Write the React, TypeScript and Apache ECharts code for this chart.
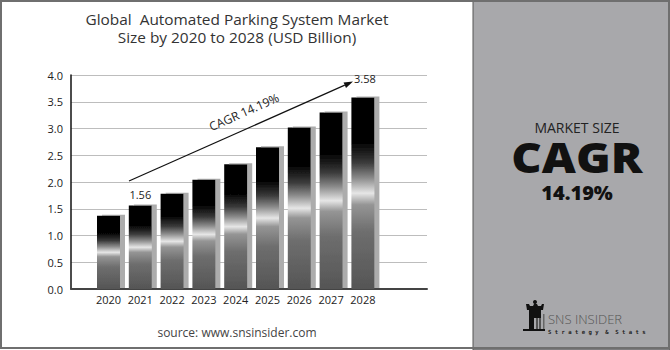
import React, { useEffect, useRef } from "react";
import * as echarts from "echarts";

const years = ["2020", "2021", "2022", "2023", "2024", "2025", "2026", "2027", "2028"];
const marketSize = [1.37, 1.56, 1.78, 2.04, 2.33, 2.65, 3.02, 3.3, 3.58];
const labeledYears = ["2021", "2028"];
const yTicks = { min: 0, max: 4, interval: 0.5 };
const titleLines = ["Global  Automated Parking System Market", "Size by 2020 to 2028 (USD Billion)"];
const cagrText = "CAGR 14.19%";
const sideTexts = { top: "MARKET SIZE", big: "CAGR", value: "14.19%" };
const sourceText = "source: www.snsinsider.com";
const logoTexts = { name: "SNS INSIDER", tagline: "S t r a t e g y  &  S t a t s" };

const FONT = "'Open Sans', 'DejaVu Sans', sans-serif";

export default function App() {
  const ref = useRef<HTMLDivElement>(null);
  useEffect(() => {
    if (!ref.current) return;
    const chart = echarts.init(ref.current, undefined, { renderer: "svg" });

    const barGradient = new echarts.graphic.LinearGradient(0, 0, 0, 1, [
      { offset: 0, color: "#000000" },
      { offset: 0.24, color: "#050505" },
      { offset: 0.34, color: "#3a3a3a" },
      { offset: 0.42, color: "#8a8a8a" },
      { offset: 0.5, color: "#e6e6e6" },
      { offset: 0.56, color: "#959595" },
      { offset: 0.7, color: "#6e6e6e" },
      { offset: 1, color: "#555555" },
    ]);

    const data = marketSize.map((v, i) => {
      const lbl = labeledYears.includes(years[i]);
      if (!lbl) return v;
      return {
        value: v,
        label: {
          show: true,
          position: "top",
          distance: i === years.length - 1 ? 13 : 6,
          offset: i === years.length - 1 ? [2, 0] : [0, 0],
          formatter: (p: any) => p.value.toFixed(2),
          fontFamily: FONT,
          fontSize: 11,
          color: "#222",
        },
      };
    });

    // arrow geometry (annotation)
    const x1 = 129, y1 = 181, tipX = 353, tipY = 81.5;
    const dx = tipX - x1, dy = tipY - y1;
    const len = Math.sqrt(dx * dx + dy * dy);
    const ux = dx / len, uy = dy / len;
    const nx = -uy, ny = ux;
    const bx = tipX - 9 * ux, by = tipY - 9 * uy;
    const angle = Math.atan2(-dy, dx);

    const option: any = {
      animation: false,
      backgroundColor: "#ffffff",
      grid: [
        { left: 71, top: 75, width: 356, height: 214 },
        { left: 92.6, top: 75, width: 286.2, height: 214 },
      ],
      xAxis: [
        {
          gridIndex: 0,
          type: "value",
          min: 0,
          max: 1,
          axisLabel: { show: false },
          axisTick: { show: false },
          splitLine: { show: false },
          axisLine: { show: true, lineStyle: { color: "#444", width: 2 } },
        },
        {
          gridIndex: 1,
          type: "category",
          data: years,
          axisLine: { show: false },
          axisTick: { show: false },
          axisLabel: { interval: 0, fontFamily: FONT, fontSize: 11, color: "#222", margin: 5 },
        },
      ],
      yAxis: [
        {
          gridIndex: 0,
          type: "value",
          ...yTicks,
          axisLabel: {
            fontFamily: FONT,
            fontSize: 11,
            color: "#222",
            margin: 8,
            formatter: (v: number) => v.toFixed(1),
          },
          axisTick: { show: false },
          axisLine: { show: true, lineStyle: { color: "#111", width: 1.5 } },
          splitLine: { show: true, lineStyle: { color: "#bdbdbd", width: 1 } },
        },
        {
          gridIndex: 1,
          type: "value",
          ...yTicks,
          show: false,
          splitLine: { show: false },
        },
      ],
      series: [
        {
          type: "bar",
          xAxisIndex: 1,
          yAxisIndex: 1,
          data,
          barWidth: 23,
          itemStyle: {
            color: barGradient,
            shadowColor: "#acacac",
            shadowBlur: 0,
            shadowOffsetX: 5,
            shadowOffsetY: -1,
          },
          z: 3,
        },
      ],
      graphic: [
        {
          type: "rect",
          shape: { x: 473, y: 0, width: 197, height: 350 },
          style: { fill: "#a8a8ab", stroke: "#555", lineWidth: 1 },
          z: -10,
        },
        {
          type: "rect",
          shape: { x: 1, y: 1, width: 668, height: 347 },
          style: { fill: "none", stroke: "#6f6f6f", lineWidth: 2 },
          z: 100,
        },
        {
          type: "text",
          x: 237,
          y: 19,
          scaleX: 1.1,
          style: {
            text: titleLines[0],
            font: `14px ${FONT}`,
            fill: "#333",
            textAlign: "center",
            textVerticalAlign: "middle",
          },
        },
        {
          type: "text",
          x: 237,
          y: 37,
          scaleX: 1.1,
          style: {
            text: titleLines[1],
            font: `14px ${FONT}`,
            fill: "#333",
            textAlign: "center",
            textVerticalAlign: "middle",
          },
        },
        {
          type: "line",
          shape: { x1, y1, x2: bx, y2: by },
          style: { stroke: "#111", lineWidth: 1.2 },
          z: 10,
        },
        {
          type: "polygon",
          shape: {
            points: [
              [tipX, tipY],
              [bx + 3 * nx, by + 3 * ny],
              [bx - 3 * nx, by - 3 * ny],
            ],
          },
          style: { fill: "#111" },
          z: 10,
        },
        {
          type: "text",
          x: 244,
          y: 112,
          rotation: angle,
          style: {
            text: cagrText,
            font: `12px ${FONT}`,
            fill: "#222",
            textAlign: "center",
            textVerticalAlign: "middle",
          },
          z: 10,
        },
        {
          type: "text",
          x: 237,
          y: 332,
          style: {
            text: sourceText,
            font: `12px ${FONT}`,
            fill: "#444",
            textAlign: "center",
            textVerticalAlign: "middle",
          },
        },
        {
          type: "text",
          x: 577,
          y: 127,
          style: {
            text: sideTexts.top,
            font: `500 14px ${FONT}`,
            fill: "#222",
            textAlign: "center",
            textVerticalAlign: "middle",
          },
        },
        {
          type: "text",
          x: 577,
          y: 157,
          scaleX: 1.12,
          style: {
            text: sideTexts.big,
            font: `800 42px ${FONT}`,
            fill: "#111",
            textAlign: "center",
            textVerticalAlign: "middle",
          },
        },
        {
          type: "text",
          x: 577,
          y: 192,
          style: {
            text: sideTexts.value,
            font: `800 20px ${FONT}`,
            fill: "#111",
            textAlign: "center",
            textVerticalAlign: "middle",
          },
        },
        // logo icon
        {
          type: "group",
          children: [
            { type: "circle", shape: { cx: 535, cy: 302, r: 2 }, style: { fill: "#111" } },
            {
              type: "polygon",
              shape: { points: [[526, 304], [529, 304], [530, 306], [533, 306], [534, 304], [537, 304], [538, 306], [541, 306], [542, 304], [544, 304], [543, 310], [527, 310]] },
              style: { fill: "#111" },
            },
            { type: "rect", shape: { x: 529, y: 310, width: 12, height: 8 }, style: { fill: "#111" } },
            { type: "rect", shape: { x: 529, y: 318, width: 5, height: 11 }, style: { fill: "#111" } },
            { type: "rect", shape: { x: 536, y: 318, width: 2, height: 11 }, style: { fill: "#555" } },
            { type: "rect", shape: { x: 539, y: 318, width: 2, height: 11 }, style: { fill: "#555" } },
            { type: "rect", shape: { x: 543, y: 314, width: 1.5, height: 15 }, style: { fill: "#666" } },
            { type: "rect", shape: { x: 523, y: 329, width: 22, height: 2 }, style: { fill: "#111" } },
          ],
        },
        {
          type: "text",
          x: 548,
          y: 319,
          style: {
            text: logoTexts.name,
            font: `300 13px ${FONT}`,
            fill: "#555",
            textAlign: "left",
            textVerticalAlign: "middle",
          },
        },
        {
          type: "text",
          x: 548,
          y: 332,
          style: {
            text: logoTexts.tagline,
            font: `bold 5.6px 'DejaVu Sans Mono', monospace`,
            fill: "#222",
            textAlign: "left",
            textVerticalAlign: "middle",
          },
        },
      ],
    };

    chart.setOption(option);
    return () => chart.dispose();
  }, []);

  return (
    <div
      ref={ref}
      style={{ position: "fixed", left: 0, top: 0, width: 670, height: 350 }}
    />
  );
}
